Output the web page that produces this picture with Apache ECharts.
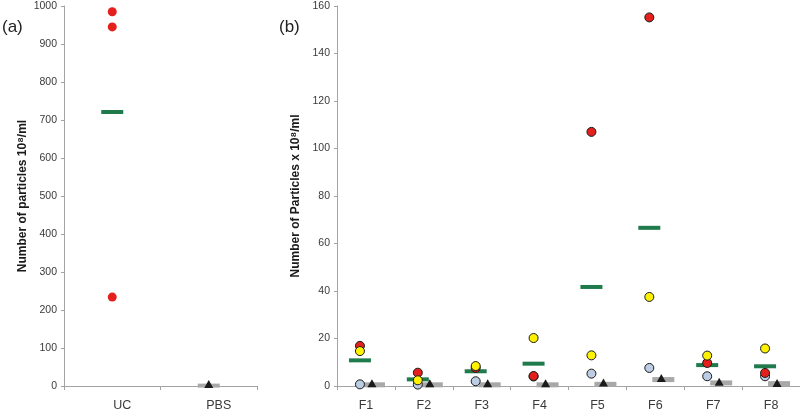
<!DOCTYPE html>
<html>
<head>
<meta charset="utf-8">
<script src="https://cdn.jsdelivr.net/npm/echarts@6/dist/echarts.min.js"></script>
<style>
  html, body { margin: 0; padding: 0; background: #fff; }
  #chart { width: 800px; height: 415px; }
</style>
</head>
<body>
<div id="chart"></div>
<script>
// ---- Panel (a) data ----
const catsA = ['UC', 'PBS'];
const ucValues = [985, 945, 234];
const ucMean = 721;
const pbsMean = 1;
const pbsValue = 0;
const ticksA = { min: 0, max: 1000, interval: 100 };

// ---- Panel (b) data ----
const catsB = ['F1', 'F2', 'F3', 'F4', 'F5', 'F6', 'F7', 'F8'];
const redB = [16.9, 5.6, 7.6, 4.2, 107, 155.2, 9.7, 5.5];
const yellowB = [14.7, 2.4, 8.4, 20.2, 12.9, 37.5, 12.8, 15.8];
const blueB = [0.7, 0.6, 2.0, 4.0, 5.2, 7.6, 4.1, 4.1];
const meanB = [10.8, 2.8, 6.2, 9.4, 41.7, 66.6, 8.8, 8.3];
const ctrlMeanB = [0.5, 0.5, 0.5, 0.5, 0.7, 2.7, 1.3, 1.0];
const ctrlValueB = [0.3, 0.3, 0.3, 0.3, 0.6, 2.5, 1.0, 0.4];
const ticksB = { min: 0, max: 160, interval: 20 };

const FONT = '"Liberation Sans", Arial, sans-serif';
const axisGray = '#a3a3a3';
const labelColor = '#3a3a3a';

const chart = echarts.init(document.getElementById('chart'), null, { renderer: 'canvas' });

function pairs(cats, vals) { return vals.map((v, i) => [cats[i], v]); }

function yAxisCfg(gridIndex, t, name, gap) {
  return {
    type: 'value', gridIndex, min: t.min, max: t.max, interval: t.interval,
    name, nameLocation: 'middle', nameGap: gap,
    nameTextStyle: { fontFamily: FONT, fontSize: 12, fontWeight: 'bold', color: '#1a1a1a' },
    axisLine: { show: true, lineStyle: { color: axisGray, width: 1 } },
    axisTick: { show: true, length: 3, lineStyle: { color: axisGray } },
    axisLabel: { fontFamily: FONT, fontSize: 10.5, color: labelColor, margin: 7,
                 formatter: v => String(v) },
    splitLine: { show: false }
  };
}
function xAxisCfg(gridIndex, cats, pad) {
  return {
    type: 'category', gridIndex, data: cats, boundaryGap: true,
    axisLine: { show: true, lineStyle: { color: axisGray, width: 1 } },
    axisTick: { show: true, length: 4, lineStyle: { color: axisGray } },
    axisLabel: { fontFamily: FONT, fontSize: 12.5, color: labelColor, margin: 13, padding: pad },
    splitLine: { show: false }
  };
}

const solid = (color, border) => border
  ? { color, opacity: 1, borderColor: '#1a1a1a', borderWidth: 1 }
  : { color, opacity: 1 };

const option = {
  backgroundColor: '#ffffff',
  animation: false,
  grid: [
    { left: 64, top: 6, width: 193, bottom: 29 },
    { left: 337, top: 6, right: 0, bottom: 29 }
  ],
  xAxis: [
    xAxisCfg(0, catsA, [0, 0, 0, 20]),
    xAxisCfg(1, catsB, 0)
  ],
  yAxis: [
    yAxisCfg(0, ticksA, 'Number of particles 10⁸/ml', 35),
    yAxisCfg(1, ticksB, 'Number of Particles x 10⁸/ml', 29)
  ],
  graphic: [
    { type: 'text', left: 2, top: 19, style: { text: '(a)', font: '17px ' + FONT, fill: '#222' } },
    { type: 'text', left: 279, top: 19, style: { text: '(b)', font: '17px ' + FONT, fill: '#222' } }
  ],
  series: [
    // Panel a
    { type: 'scatter', xAxisIndex: 0, yAxisIndex: 0, symbol: 'rect', symbolSize: [22, 4],
      itemStyle: solid('#1f7a4c'), data: [['UC', ucMean]] },
    { type: 'scatter', xAxisIndex: 0, yAxisIndex: 0, symbol: 'circle', symbolSize: 9,
      itemStyle: solid('#e3201b'), data: ucValues.map(v => ['UC', v]) },
    { type: 'scatter', xAxisIndex: 0, yAxisIndex: 0, symbol: 'rect', symbolSize: [22, 4],
      itemStyle: solid('#a8a8a8'), data: [['PBS', pbsMean]] },
    { type: 'scatter', xAxisIndex: 0, yAxisIndex: 0, symbol: 'triangle', symbolSize: [9, 8],
      symbolOffset: [0, -2], itemStyle: solid('#1b1b1b'), data: [['PBS', pbsValue]] },
    // Panel b
    { type: 'scatter', xAxisIndex: 1, yAxisIndex: 1, symbol: 'rect', symbolSize: [22, 5],
      symbolOffset: [8, 0], itemStyle: solid('#a8a8a8'), data: pairs(catsB, ctrlMeanB) },
    { type: 'scatter', xAxisIndex: 1, yAxisIndex: 1, symbol: 'triangle', symbolSize: [9, 8],
      symbolOffset: [6, -2], itemStyle: solid('#1b1b1b'), data: pairs(catsB, ctrlValueB) },
    { type: 'scatter', xAxisIndex: 1, yAxisIndex: 1, symbol: 'rect', symbolSize: [22, 4],
      symbolOffset: [-6, 0], itemStyle: solid('#1f7a4c'), data: pairs(catsB, meanB) },
    { type: 'scatter', xAxisIndex: 1, yAxisIndex: 1, symbol: 'circle', symbolSize: 9,
      symbolOffset: [-6, 0], itemStyle: solid('#bccde3', true), data: pairs(catsB, blueB) },
    { type: 'scatter', xAxisIndex: 1, yAxisIndex: 1, symbol: 'circle', symbolSize: 9,
      symbolOffset: [-6, 0], itemStyle: solid('#e3201b', true), data: pairs(catsB, redB) },
    { type: 'scatter', xAxisIndex: 1, yAxisIndex: 1, symbol: 'circle', symbolSize: 9,
      symbolOffset: [-6, 0], itemStyle: solid('#fff200', true), data: pairs(catsB, yellowB) }
  ]
};
chart.setOption(option);
</script>
</body>
</html>
